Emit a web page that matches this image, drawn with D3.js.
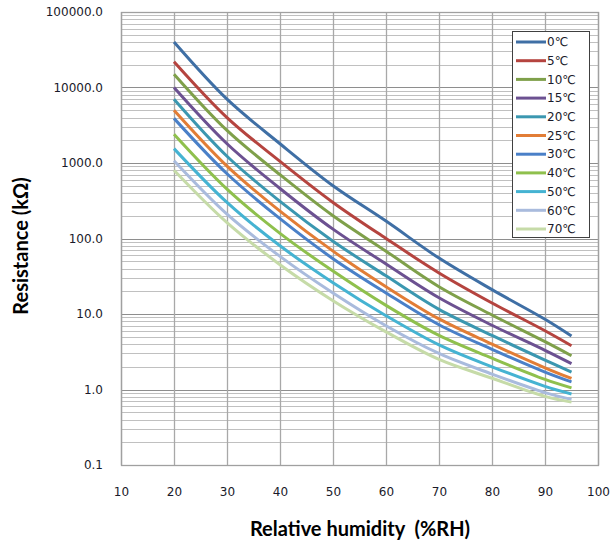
<!DOCTYPE html>
<html>
<head>
    <meta charset="utf-8">
    <title>Resistance vs Relative humidity</title>
    <script src="https://cdnjs.cloudflare.com/ajax/libs/d3/7.8.5/d3.min.js"></script>
    <style>
        html, body {
            margin: 0;
            padding: 0;
            background: #ffffff;
        }
        svg text {
            font-family: "DejaVu Sans", Verdana, sans-serif;
        }
        .axis-title {
            font-family: Lato, "Open Sans", sans-serif !important;
            font-weight: bold;
            font-size: 20px;
            white-space: pre;
        }
    </style>
</head>
<body>
    <div id="chart"></div>
    <script>
        // humidity points (%RH)
        const humidity = [20, 30, 40, 50, 60, 70, 80, 90, 95];

        const temps = ['0℃', '5℃', '10℃', '15℃', '20℃', '25℃', '30℃', '40℃', '50℃', '60℃', '70℃'];

        // resistance in kOhm, one array per temperature
        const r0 = [40000, 7000, 1800, 500, 170, 55, 21, 8.5, 5.1];
        const r5 = [22000, 4000, 1050, 300, 100, 35, 14, 6.0, 3.8];
        const r10 = [15000, 2700, 700, 200, 68, 23, 9.7, 4.3, 2.8];
        const r15 = [10000, 1800, 460, 133, 46, 16.4, 7.1, 3.3, 2.2];
        const r20 = [7000, 1230, 310, 92, 32, 11.5, 5.2, 2.45, 1.7];
        const r25 = [5000, 910, 230, 68, 23, 8.6, 4.0, 1.94, 1.4];
        const r30 = [3900, 720, 183, 54, 19, 7.2, 3.4, 1.7, 1.26];
        const r40 = [2400, 450, 117, 37, 13, 5.2, 2.6, 1.36, 1.05];
        const r50 = [1550, 300, 80, 26, 9.5, 3.9, 2.0, 1.1, 0.87];
        const r60 = [1070, 210, 58, 19, 7.0, 3.0, 1.6, 0.91, 0.74];
        const r70 = [800, 162, 45, 15, 5.8, 2.5, 1.41, 0.81, 0.68];

        const seriesValues = [r0, r5, r10, r15, r20, r25, r30, r40, r50, r60, r70];

        const colors = ['#3F6FA5', '#B5443F', '#7FA04A', '#6C5191', '#3B97B0', '#E27D36',
            '#4A80C8', '#8FC04D', '#45B3D2', '#A9BBDD', '#C6DBA8'];

        const xTicks = [10, 20, 30, 40, 50, 60, 70, 80, 90, 100];
        const yTicks = [0.1, 1, 10, 100, 1000, 10000, 100000];

        const width = 611, height = 547;
        const margin = { top: 12, right: 13, bottom: 82, left: 121 };

        const svg = d3.select('#chart')
            .append('svg')
            .attr('width', width)
            .attr('height', height);

        const x = d3.scaleLinear()
            .domain([10, 100])
            .range([margin.left, width - margin.right]);

        const y = d3.scaleLog()
            .domain([0.1, 100000])
            .range([height - margin.bottom, margin.top]);

        // minor horizontal grid
        const minor = [];
        yTicks.slice(0, -1).forEach(d => {
            for (let k = 2; k <= 9; k++) minor.push(d * k);
        });

        svg.append('g')
            .selectAll('line')
            .data(minor)
            .enter()
            .append('line')
            .attr('x1', x(10))
            .attr('x2', x(100))
            .attr('y1', d => Math.round(y(d)) + 0.5)
            .attr('y2', d => Math.round(y(d)) + 0.5)
            .attr('stroke', '#c0c0c0')
            .attr('stroke-width', 1);

        // major horizontal grid
        svg.append('g')
            .selectAll('line')
            .data(yTicks)
            .enter()
            .append('line')
            .attr('x1', x(10))
            .attr('x2', x(100))
            .attr('y1', d => Math.round(y(d)) + 0.5)
            .attr('y2', d => Math.round(y(d)) + 0.5)
            .attr('stroke', '#8e8e8e')
            .attr('stroke-width', 1);

        // vertical grid
        svg.append('g')
            .selectAll('line')
            .data(xTicks)
            .enter()
            .append('line')
            .attr('x1', d => Math.round(x(d)) + 0.5)
            .attr('x2', d => Math.round(x(d)) + 0.5)
            .attr('y1', y(100000))
            .attr('y2', y(0.1))
            .attr('stroke', '#a8a8a8')
            .attr('stroke-width', 1.3);

        // plot border
        svg.append('rect')
            .attr('x', x(10) + 0.5)
            .attr('y', y(100000) + 0.5)
            .attr('width', x(100) - x(10))
            .attr('height', y(0.1) - y(100000))
            .attr('fill', 'none')
            .attr('stroke', '#a0a0a0')
            .attr('stroke-width', 1.3);

        // axes (labels only)
        const yAxis = d3.axisLeft(y)
            .tickValues(yTicks)
            .tickSize(0)
            .tickPadding(18)
            .tickFormat(d => d3.format('.1f')(d));

        const gy = svg.append('g')
            .attr('transform', `translate(${x(10)},0)`)
            .call(yAxis);
        gy.select('.domain').remove();
        gy.selectAll('text')
            .attr('fill', '#1a1a2a')
            .style('font-size', '12px');

        const xAxis = d3.axisBottom(x)
            .tickValues(xTicks)
            .tickSize(0)
            .tickPadding(22);

        const gx = svg.append('g')
            .attr('transform', `translate(0,${y(0.1)})`)
            .call(xAxis);
        gx.select('.domain').remove();
        gx.selectAll('text')
            .attr('fill', '#1a1a2a')
            .style('font-size', '12px');

        // series lines
        const line = d3.line()
            .x((d, i) => x(humidity[i]))
            .y(d => y(d))
            .curve(d3.curveCatmullRom.alpha(0.5));

        svg.append('g')
            .selectAll('path')
            .data(seriesValues)
            .enter()
            .append('path')
            .attr('d', d => line(d))
            .attr('fill', 'none')
            .attr('stroke', (d, i) => colors[i])
            .attr('stroke-width', 3)
            .attr('stroke-linejoin', 'round');

        // legend
        const legend = svg.append('g')
            .attr('transform', 'translate(512,31)');

        legend.append('rect')
            .attr('x', 0.5)
            .attr('y', 0.5)
            .attr('width', 77)
            .attr('height', 206)
            .attr('fill', '#ffffff')
            .attr('stroke', '#404040')
            .attr('stroke-width', 1);

        const items = legend.selectAll('g.item')
            .data(temps)
            .enter()
            .append('g')
            .attr('class', 'item')
            .attr('transform', (d, i) => `translate(0,${11 + i * 18.7})`);

        items.append('line')
            .attr('x1', 4)
            .attr('x2', 34)
            .attr('stroke', (d, i) => colors[i])
            .attr('stroke-width', 3);

        items.append('text')
            .attr('x', 35)
            .attr('dy', '0.35em')
            .attr('fill', '#1a1a2a')
            .style('font-size', '12px')
            .text(d => d);

        // axis titles
        svg.append('text')
            .attr('class', 'axis-title')
            .attr('x', 360)
            .attr('y', 536)
            .attr('text-anchor', 'middle')
            .text('Relative humidity  (%RH)');

        svg.append('text')
            .attr('class', 'axis-title')
            .attr('transform', `translate(28,246) rotate(-90)`)
            .attr('text-anchor', 'middle')
            .text('Resistance (kΩ)');
    </script>
</body>
</html>
